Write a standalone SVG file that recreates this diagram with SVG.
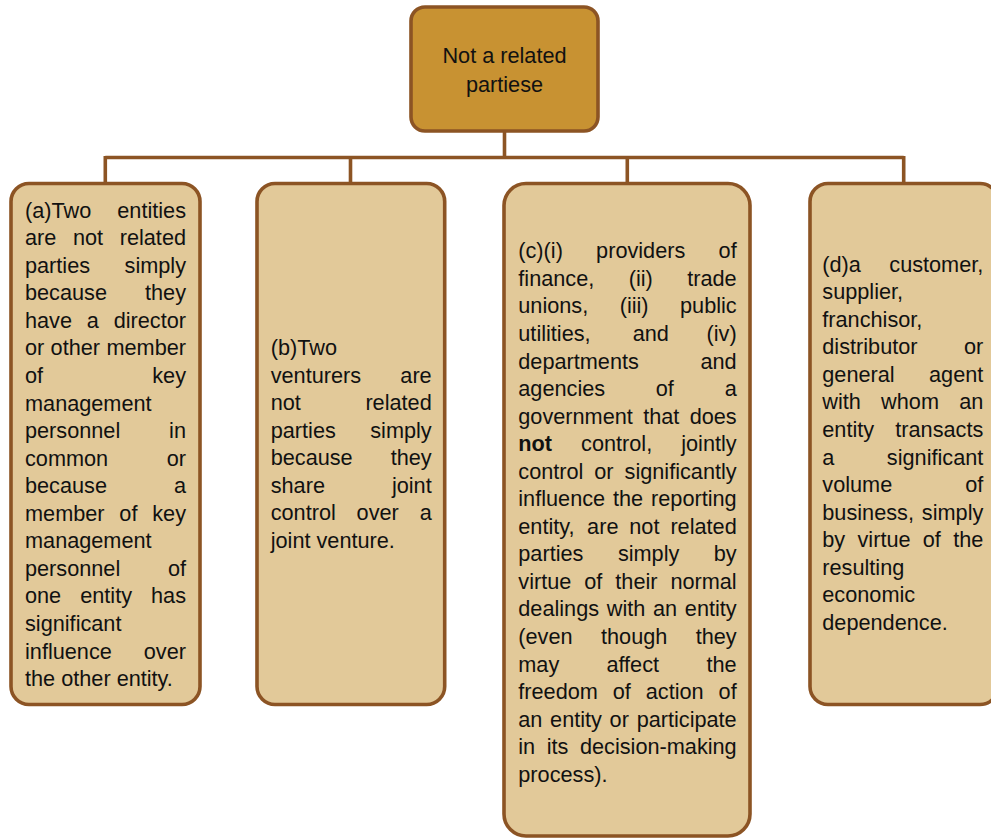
<svg xmlns="http://www.w3.org/2000/svg" width="991" height="840" viewBox="0 0 991 840">
<style>
.box{fill:#E2C999;stroke:#8C5424;stroke-width:3.6}
.root{fill:#C89232;stroke:#8C5424;stroke-width:3.6}
.con{fill:none;stroke:#8C5424;stroke-width:3.6}
text{font-family:"Liberation Sans",Arial,sans-serif;font-size:21.7px;fill:#111}
.e{text-anchor:end}
.m{text-anchor:middle}
.b{font-weight:bold}
</style>
<rect width="991" height="840" fill="#ffffff"/>
<g id="connectors">
<path class="con" d="M504.5 131 V157.5 M105.3 157.5 H903.7 M105.3 156 V183.5 M350.5 156 V183.5 M627.3 156 V183.5 M903.7 156 V183.5"/>
</g>
<g id="root">
<rect class="root" x="411" y="7" width="187" height="124" rx="14"/>
<text class="m" x="504.5" y="63.3">Not a related</text>
<text class="m" x="504.5" y="91.7">partiese</text>
</g>
<g id="nodeA">
<rect class="box" x="11" y="183.5" width="189" height="521" rx="18"/>
<text x="25" y="217.7">(a)Two</text><text class="e" x="186" y="217.7">entities</text>
<text x="25" y="245.25">are</text><text x="72.9" y="245.25">not</text><text class="e" x="186" y="245.25">related</text>
<text x="25" y="272.8">parties</text><text class="e" x="186" y="272.8">simply</text>
<text x="25" y="300.35">because</text><text class="e" x="186" y="300.35">they</text>
<text x="25" y="327.9">have</text><text x="86.8" y="327.9">a</text><text class="e" x="186" y="327.9">director</text>
<text x="25" y="355.45">or</text><text x="50.6" y="355.45">other</text><text class="e" x="186" y="355.45">member</text>
<text x="25" y="383">of</text><text class="e" x="186" y="383">key</text>
<text x="25" y="410.55">management</text>
<text x="25" y="438.1">personnel</text><text class="e" x="186" y="438.1">in</text>
<text x="25" y="465.65">common</text><text class="e" x="186" y="465.65">or</text>
<text x="25" y="493.2">because</text><text class="e" x="186" y="493.2">a</text>
<text x="25" y="520.75">member</text><text x="119.35" y="520.75">of</text><text class="e" x="186" y="520.75">key</text>
<text x="25" y="548.3">management</text>
<text x="25" y="575.85">personnel</text><text class="e" x="186" y="575.85">of</text>
<text x="25" y="603.4">one</text><text x="80.2" y="603.4">entity</text><text class="e" x="186" y="603.4">has</text>
<text x="25" y="630.95">significant</text>
<text x="25" y="658.5">influence</text><text class="e" x="186" y="658.5">over</text>
<text x="25" y="686.05">the other entity.</text>
</g>
<g id="nodeB">
<rect class="box" x="257" y="183.5" width="187.7" height="521" rx="18"/>
<text x="270.7" y="355">(b)Two</text>
<text x="270.7" y="382.5">venturers</text><text class="e" x="431.7" y="382.5">are</text>
<text x="270.7" y="410">not</text><text class="e" x="431.7" y="410">related</text>
<text x="270.7" y="437.5">parties</text><text class="e" x="431.7" y="437.5">simply</text>
<text x="270.7" y="465">because</text><text class="e" x="431.7" y="465">they</text>
<text x="270.7" y="492.5">share</text><text class="e" x="431.7" y="492.5">joint</text>
<text x="270.7" y="520">control</text><text x="356.6" y="520">over</text><text class="e" x="431.7" y="520">a</text>
<text x="270.7" y="547.5">joint venture.</text>
</g>
<g id="nodeC">
<rect class="box" x="504" y="183.5" width="246" height="652.5" rx="22"/>
<text x="518.3" y="258.3">(c)(i)</text><text x="596.1" y="258.3">providers</text><text class="e" x="736.7" y="258.3">of</text>
<text x="518.3" y="285.85">finance,</text><text x="628.7" y="285.85">(ii)</text><text class="e" x="736.7" y="285.85">trade</text>
<text x="518.3" y="313.4">unions,</text><text x="619.7" y="313.4">(iii)</text><text class="e" x="736.7" y="313.4">public</text>
<text x="518.3" y="340.95">utilities,</text><text x="632.7" y="340.95">and</text><text class="e" x="736.7" y="340.95">(iv)</text>
<text x="518.3" y="368.5">departments</text><text class="e" x="736.7" y="368.5">and</text>
<text x="518.3" y="396.05">agencies</text><text x="655.8" y="396.05">of</text><text class="e" x="736.7" y="396.05">a</text>
<text x="518.3" y="423.6">government</text><text x="643.2" y="423.6">that</text><text class="e" x="736.7" y="423.6">does</text>
<text class="b" x="518.3" y="451.15">not</text><text x="581.1" y="451.15">control,</text><text class="e" x="736.7" y="451.15">jointly</text>
<text x="518.3" y="478.7">control</text><text x="594.3" y="478.7">or</text><text class="e" x="736.7" y="478.7">significantly</text>
<text x="518.3" y="506.25">influence</text><text x="613" y="506.25">the</text><text class="e" x="736.7" y="506.25">reporting</text>
<text x="518.3" y="533.8">entity,</text><text x="587.1" y="533.8">are</text><text x="629.3" y="533.8">not</text><text class="e" x="736.7" y="533.8">related</text>
<text x="518.3" y="561.35">parties</text><text x="617.9" y="561.35">simply</text><text class="e" x="736.7" y="561.35">by</text>
<text x="518.3" y="588.9">virtue</text><text x="584.3" y="588.9">of</text><text x="615.3" y="588.9">their</text><text class="e" x="736.7" y="588.9">normal</text>
<text x="518.3" y="616.45">dealings</text><text x="606.8" y="616.45">with</text><text x="653" y="616.45">an</text><text class="e" x="736.7" y="616.45">entity</text>
<text x="518.3" y="644">(even</text><text x="601" y="644">though</text><text class="e" x="736.7" y="644">they</text>
<text x="518.3" y="671.55">may</text><text x="606.4" y="671.55">affect</text><text class="e" x="736.7" y="671.55">the</text>
<text x="518.3" y="699.1">freedom</text><text x="612.8" y="699.1">of</text><text x="645.8" y="699.1">action</text><text class="e" x="736.7" y="699.1">of</text>
<text x="518.3" y="726.65">an</text><text x="550.1" y="726.65">entity</text><text x="609.6" y="726.65">or</text><text class="e" x="736.7" y="726.65">participate</text>
<text x="518.3" y="754.2">in</text><text x="546.7" y="754.2">its</text><text class="e" x="736.7" y="754.2">decision-making</text>
<text x="518.3" y="781.75">process).</text>
</g>
<g id="nodeD">
<rect class="box" x="810" y="183.5" width="188" height="521" rx="18"/>
<text x="822.3" y="271.7">(d)a</text><text class="e" x="983.3" y="271.7">customer,</text>
<text x="822.3" y="299.25">supplier,</text>
<text x="822.3" y="326.8">franchisor,</text>
<text x="822.3" y="354.35">distributor</text><text class="e" x="983.3" y="354.35">or</text>
<text x="822.3" y="381.9">general</text><text class="e" x="983.3" y="381.9">agent</text>
<text x="822.3" y="409.45">with</text><text x="881.1" y="409.45">whom</text><text class="e" x="983.3" y="409.45">an</text>
<text x="822.3" y="437">entity</text><text class="e" x="983.3" y="437">transacts</text>
<text x="822.3" y="464.55">a</text><text class="e" x="983.3" y="464.55">significant</text>
<text x="822.3" y="492.1">volume</text><text class="e" x="983.3" y="492.1">of</text>
<text x="822.3" y="519.65">business,</text><text class="e" x="983.3" y="519.65">simply</text>
<text x="822.3" y="547.2">by</text><text x="857.5" y="547.2">virtue</text><text x="922.8" y="547.2">of</text><text class="e" x="983.3" y="547.2">the</text>
<text x="822.3" y="574.75">resulting</text>
<text x="822.3" y="602.3">economic</text>
<text x="822.3" y="629.85">dependence.</text>
</g>
</svg>
